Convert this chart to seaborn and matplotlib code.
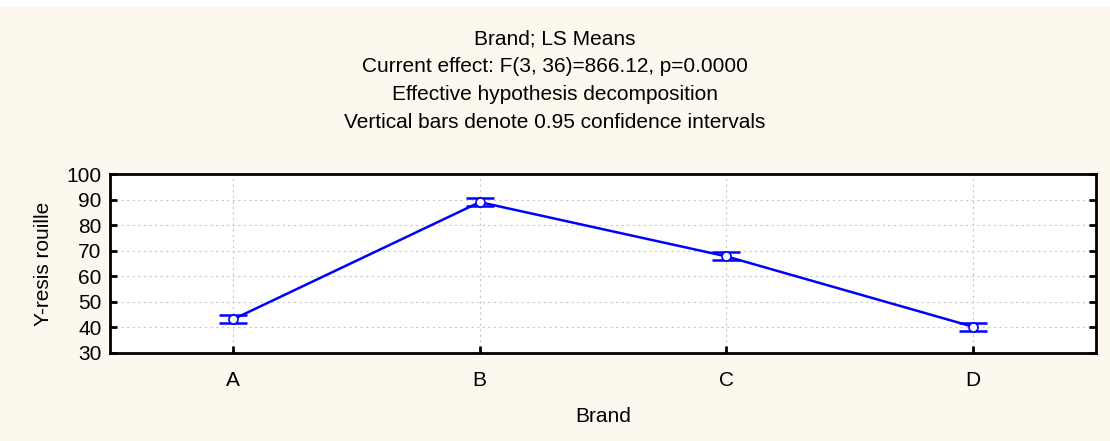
import matplotlib
matplotlib.use("Agg")
import matplotlib.pyplot as plt
import seaborn as sns
import pandas as pd

# LS means per brand, with 0.95 confidence limits
brands = ["A", "B", "C", "D"]
means = [43.2, 89.0, 67.8, 40.3]
ci_low = [41.6, 87.4, 66.2, 38.7]
ci_high = [44.8, 90.6, 69.4, 41.9]

df = pd.DataFrame({"Brand": brands, "mean": means})

sns.set_style("ticks")
plt.rcParams["font.family"] = ["Liberation Sans", "DejaVu Sans"]
plt.rcParams["text.color"] = "black"
plt.rcParams["axes.labelcolor"] = "black"
plt.rcParams["xtick.labelcolor"] = "black"
plt.rcParams["ytick.labelcolor"] = "black"

bg = "#fdf8ee"
fig = plt.figure(figsize=(11.1, 4.41), dpi=100, facecolor=bg)
ax = fig.add_axes([110 / 1110, 1 - 353 / 441, 986 / 1110, 179 / 441])
ax.set_facecolor("white")

# white strip at the top of the window
fig.patches.append(plt.Rectangle((0, 1 - 7 / 441), 1, 7 / 441, transform=fig.transFigure,
                                 facecolor="white", edgecolor="none", zorder=0))

sns.lineplot(data=df, x="Brand", y="mean", ax=ax, color="#0000ff", linewidth=1.8,
             sort=False, zorder=2)
xpos = range(len(brands))
yerr = [[m - lo for m, lo in zip(means, ci_low)], [hi - m for m, hi in zip(means, ci_high)]]
ax.errorbar(xpos, means, yerr=yerr, fmt="none", ecolor="#0000ff", elinewidth=1.8,
            capsize=9.8, capthick=1.8, zorder=3)
ax.plot(xpos, means, "o", markersize=6.5, markerfacecolor="white",
        markeredgecolor="#0000ff", markeredgewidth=1.2, zorder=4)

ax.set_xlim(-0.5, 3.5)
ax.set_ylim(30, 100)
ax.set_yticks(range(30, 101, 10))
ax.set_xticks(list(xpos))
ax.set_xticklabels(brands)

ax.grid(True, linestyle=(0, (2, 3)), color="#c8c8c8", linewidth=0.8)
for s in ax.spines.values():
    s.set_visible(True)
    s.set_linewidth(2)
    s.set_color("black")
ax.tick_params(axis="both", direction="in", length=5, width=2, labelsize=15, color="black")
ax.tick_params(axis="y", right=True, pad=6)
ax.tick_params(axis="x", pad=13)

ax.set_xlabel("Brand", fontsize=15, labelpad=12)
ax.set_ylabel("Y-resis rouille", fontsize=15, labelpad=10)

titles = ["Brand; LS Means",
          "Current effect: F(3, 36)=866.12, p=0.0000",
          "Effective hypothesis decomposition",
          "Vertical bars denote 0.95 confidence intervals"]
for i, t in enumerate(titles):
    fig.text(0.5, 1 - (39 + i * 27.7) / 441, t, ha="center", va="center", fontsize=15)

fig.savefig("out.png", dpi=100, facecolor=bg)
